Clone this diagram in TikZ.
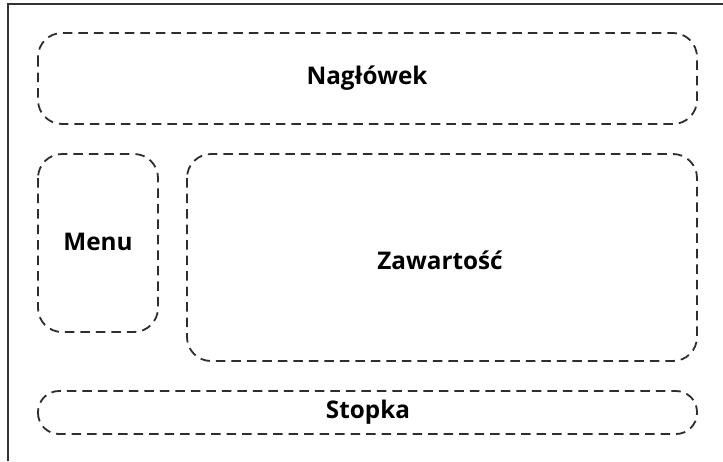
\documentclass[tikz,border=0pt]{standalone}
\usepackage{fontspec}
\setmainfont{Open Sans}
\begin{document}
\begin{tikzpicture}[x=1pt,y=-1pt,
  region/.style={draw=black!82, line width=1.8pt, dash pattern=on 9.5pt off 6pt, rounded corners=24pt},
  lbl/.style={font=\bfseries\fontsize{24.3}{27}\selectfont, text=black}]
\useasboundingbox (0,0) rectangle (723,461);
\fill[white] (0,0) rectangle (723,461);
\draw[black!80, line width=2pt] (8,461) coordinate (bl) -- (8,4) coordinate (tl) -- (723,4) coordinate (tr);
\draw[region] (38,33) rectangle (697,124);
\draw[region] (38,154) rectangle (158,332);
\draw[region] (187,154) rectangle (697,361);
\draw[region, rounded corners=21pt] (38,391) rectangle (697,434);
\node[lbl] (header) at (367,78) {Nagłówek};
\node[lbl] (menu) at (98,242) {Menu};
\node[lbl] (content) at (440,260) {Zawartość};
\node[lbl] (footer) at (368,412) {Stopka};
\end{tikzpicture}
\end{document}
